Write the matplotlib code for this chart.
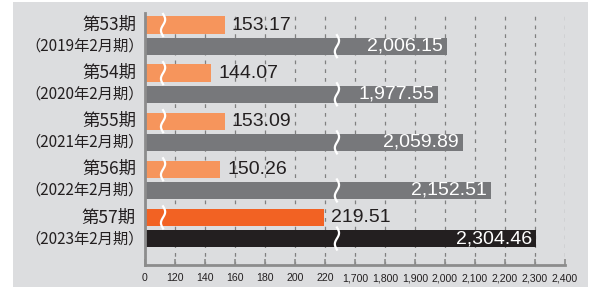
import numpy as np
import matplotlib
matplotlib.use("Agg")
import matplotlib.pyplot as plt
from matplotlib.patches import Rectangle
from matplotlib.transforms import blended_transform_factory

# ---- data ----
periods = ["第53期", "第54期", "第55期", "第56期", "第57期"]
fiscal = ["（2019年2月期）", "（2020年2月期）", "（2021年2月期）", "（2022年2月期）", "（2023年2月期）"]
orange_vals = [153.17, 144.07, 153.09, 150.26, 219.51]
gray_vals = [2006.15, 1977.55, 2059.89, 2152.51, 2304.46]
tick_vals = [0, 120, 140, 160, 180, 200, 220, 1700, 1800, 1900, 2000, 2100, 2200, 2300, 2400]

# broken-axis scale knots
scale_x = [0, 120, 220, 1700, 2400]
scale_i = [0, 1, 6, 7, 14]

def fwd(v):
    return np.interp(np.asarray(v, float), scale_x, scale_i)

def inv(i):
    return np.interp(np.asarray(i, float), scale_i, scale_x)

W, H = 595, 287
fig = plt.figure(figsize=(W / 100, H / 100), dpi=100)
fig.patch.set_facecolor("white")
fig.patches.append(Rectangle((13 / W, 0), (588 - 13) / W, (287 - 2) / H,
                             transform=fig.transFigure, facecolor="#dcdddf",
                             edgecolor="none", zorder=-10))

ax = fig.add_axes([145 / W, (H - 265) / H, 420 / W, (265 - 13) / H])
ax.set_facecolor("none")
ax.set_xscale("function", functions=(fwd, inv))
ax.set_xlim(0, 2400)
ax.set_ylim(4.77, -0.47)

n = len(periods)
ys = np.arange(n)
off = 0.22
bh = 0.36
ocolors = ["#f6955c"] * (n - 1) + ["#f26223"]
gcolors = ["#77787b"] * (n - 1) + ["#231f20"]

ax.barh(ys - off, orange_vals, height=bh, color=ocolors, zorder=3)
ax.barh(ys + off, gray_vals, height=bh, color=gcolors, zorder=3)

# grid
ax.set_xticks(tick_vals)
ax.set_xticklabels([f"{v:,}" for v in tick_vals],
                   family=["Liberation Sans Narrow", "Liberation Sans"],
                   fontsize=7.6, color="#231f20")
for v in tick_vals[1:]:
    ax.axvline(v, color="#808080", lw=0.9, ls=(0, (3, 4)), zorder=1)
ax.tick_params(axis="x", direction="in", length=4, width=1.2, color="#8c8c8c", pad=6)
ax.set_yticks([])
for s in ["top", "right"]:
    ax.spines[s].set_visible(False)
for s in ["left", "bottom"]:
    ax.spines[s].set_color("#8c8c8c")
    ax.spines[s].set_linewidth(2)
    ax.spines[s].set_zorder(4)

vfont = ["Liberation Sans", "DejaVu Sans"]
for y, v in zip(ys, orange_vals):
    ax.annotate(f"{v:,.2f}", (v, y - off), xytext=(5, 0), textcoords="offset points",
                ha="left", va="center", fontsize=14, family=vfont, color="#231f20", zorder=5)
for y, v in zip(ys, gray_vals):
    ax.annotate(f"{v:,.2f}", (v, y + off), xytext=(-3, 0), textcoords="offset points",
                ha="right", va="center", fontsize=14, family=vfont, color="white", zorder=5)

# break marks
bt = blended_transform_factory(ax.transAxes, ax.transData)
t = np.linspace(0, 1, 40)
for y in ys:
    for yc, xa in ((y - off, 0.043), (y + off, 0.457)):
        yy = yc - bh / 2 - 0.05 + t * (bh + 0.1)
        xx = xa + 0.005 * np.sin(2 * np.pi * t)
        ax.plot(xx, yy, color="white", lw=1.6, transform=bt, zorder=4, clip_on=False)

# category labels
cjk = ["Noto Sans CJK JP", "DejaVu Sans"]
lt = blended_transform_factory(fig.transFigure, ax.transData)
for y, p, f in zip(ys, periods, fiscal):
    ax.text(136 / W, y - off, p, transform=lt, ha="right", va="center",
            fontsize=12.5, family=cjk, color="#231f20")
    ax.text(144 / W, y + off, f, transform=lt, ha="right", va="center",
            fontsize=11, family=cjk, color="#231f20")

fig.savefig("out.png", dpi=100, facecolor=fig.get_facecolor())
